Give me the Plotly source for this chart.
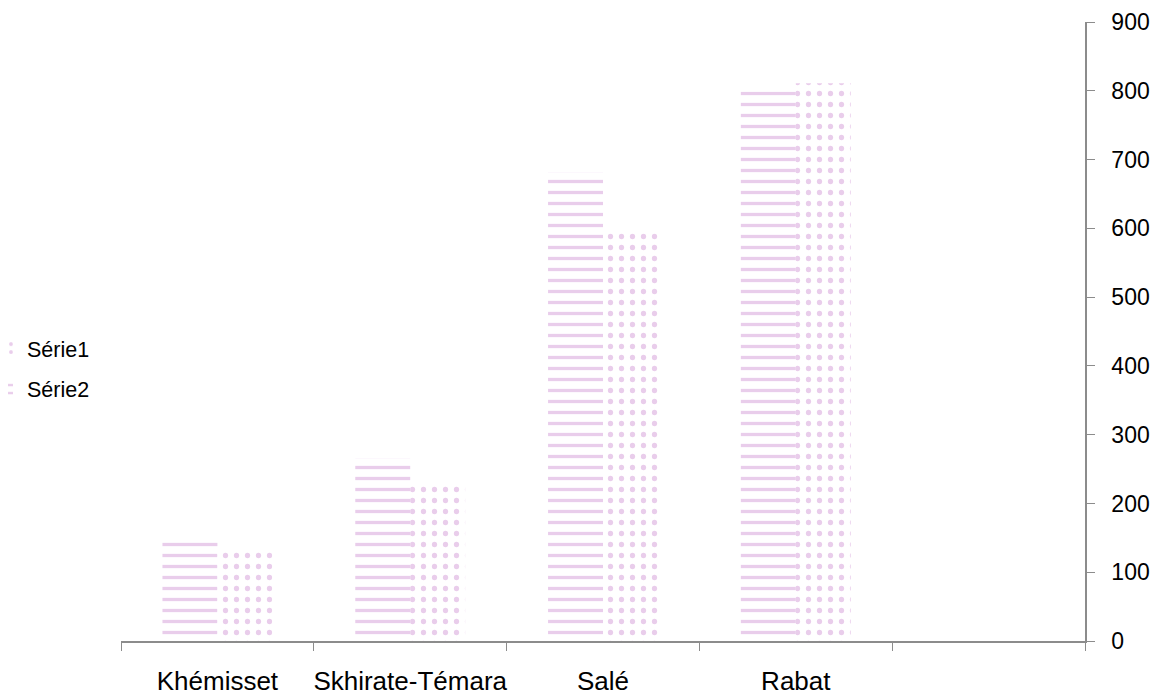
import plotly.graph_objects as go

categories = ["Khémisset", "Skhirate-Témara", "Salé", "Rabat", " "]
serie2 = [150, 266, 682, 799, None]
serie1 = [133, 230, 593, 811, None]
y_ticks = [0, 100, 200, 300, 400, 500, 600, 700, 800, 900]

PURPLE = "#d39bd8"
AXIS = "#8c8c8c"
FONT = "Liberation Sans, Arial, sans-serif"

fig = go.Figure()
fig.add_trace(go.Bar(
    x=categories, y=serie2, name="Série2", legendgroup="s2", legendrank=2,
    marker=dict(color="white", line=dict(width=0),
                pattern=dict(shape="-", fgcolor=PURPLE, bgcolor="white",
                             size=11, solidity=0.3, fillmode="overlay")),
))
fig.add_trace(go.Bar(
    x=categories, y=serie1, name="Série1", legendgroup="s1", legendrank=1,
    marker=dict(color="white", line=dict(width=0),
                pattern=dict(shape=".", fgcolor=PURPLE, bgcolor="white",
                             size=11, solidity=0.18, fillmode="overlay")),
))

fig.update_layout(
    width=1170, height=698,
    margin=dict(l=113, r=93, t=14, b=65, autoexpand=False),
    paper_bgcolor="white", plot_bgcolor="white",
    font=dict(family=FONT, color="black"),
    barmode="group", bargap=0.43, bargroupgap=0,
    showlegend=True,
    legend=dict(x=-0.139, xanchor="left", y=0.44, yanchor="middle",
                traceorder="grouped", tracegroupgap=10,
                font=dict(size=21.5), itemwidth=30, bgcolor="rgba(0,0,0,0)"),
    xaxis=dict(type="category", categoryorder="array", categoryarray=categories,
               range=[-0.5, 4.5], tickson="boundaries", ticks="outside", ticklen=8,
               tickcolor=AXIS, showline=True, linecolor=AXIS, linewidth=1.5,
               showgrid=False, zeroline=False, tickfont=dict(size=26),
               tickangle=0, ticklabelstandoff=16, automargin=False),
    yaxis=dict(side="right", range=[0, 900], tickvals=y_ticks, ticks="outside",
               ticklen=8, tickcolor=AXIS, showline=True, linecolor=AXIS,
               linewidth=1.5, showgrid=False, zeroline=False,
               tickfont=dict(size=23), ticklabelstandoff=12, automargin=False),
)

fig.write_html("out.html")
